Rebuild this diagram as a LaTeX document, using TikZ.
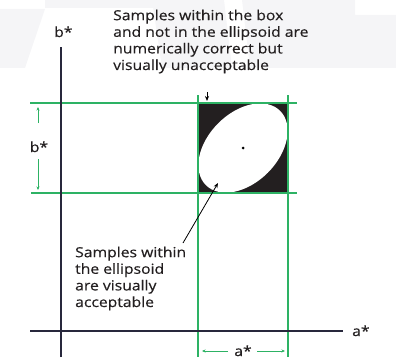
\documentclass[tikz,border=0pt]{standalone}
\usepackage{fontspec}
\setmainfont{Open Sans}[FakeStretch=1.13,FakeBold=0.4]
\usetikzlibrary{arrows.meta}
\definecolor{grn}{RGB}{45,178,100}
\definecolor{axc}{RGB}{40,40,60}
\definecolor{boxc}{RGB}{35,31,32}
\definecolor{wm}{RGB}{245,245,247}
\tikzset{
  axis/.style={draw=axc, line width=1.2pt},
  guide/.style={draw=grn, line width=1.2pt},
  dim/.style={draw=grn, line width=0.9pt, -{Stealth[length=3.5pt,width=3pt]}},
  lbl/.style={font=\fontsize{13.9}{16.6}\selectfont, inner sep=0pt, text=boxc},
  callout/.style={draw=black, line width=0.8pt, -{Stealth[length=5pt,width=4pt]}},
}
\begin{document}
\begin{tikzpicture}[x=1pt,y=-1pt]
\useasboundingbox (0,0) rectangle (396,361);
% faint background shapes
\fill[wm] (0,9) -- (45,9) -- (25,68) -- (0,68) -- cycle;
\fill[wm] (45,0) -- (158,0) -- (158,8) -- (45,8) -- cycle;
\fill[wm] (152,0) -- (224,0) -- (232,68) -- (162,68) -- cycle;
\fill[wm] (242,0) -- (355,0) -- (355,15) -- (396,15) -- (396,68) -- (250,68) -- cycle;
% box
\coordinate (ctr) at (243,148);
\fill[boxc] (198,103) rectangle (288,193);
\fill[white, rotate around={45:(ctr)}] (ctr) ellipse (52.5 and 35);
\fill[black] (ctr) circle (1.5);
% guides
\draw[guide] (30,103) -- (297,103);
\draw[guide] (31,193) -- (297,193);
\draw[guide] (198,95) -- (198,357);
\draw[guide] (288,95) -- (288,357);
% axes
\coordinate (yb) at (61,357);
\coordinate (yt) at (61,47);
\coordinate (xl) at (30,331);
\coordinate (xr) at (343,331);
\draw[axis] (yb) -- (yt);
\draw[axis] (xl) -- (xr);
% labels
\node[lbl, anchor=base west] (bstar) at (54,37) {b*};
\node[lbl, anchor=base west] (astar) at (352,336) {a*};
\node[lbl, anchor=base] (bdim) at (39,152) {b*};
\node[lbl, anchor=base] (adim) at (243,356) {a*};
% dimension lines
\coordinate (b1) at (38,123); \coordinate (b1t) at (38,107);
\coordinate (b2) at (38,159); \coordinate (b2t) at (38,190);
\draw[dim] (b1) -- (b1t);
\draw[dim] (b2) -- (b2t);
\coordinate (a1) at (228,351); \coordinate (a1t) at (202,351);
\coordinate (a2) at (257,351); \coordinate (a2t) at (285,351);
\draw[dim] (a1) -- (a1t);
\draw[dim] (a2) -- (a2t);
% texts
\node[lbl, anchor=base west, align=left] (top) at (113,70)
  {Samples within the box\\and not in the ellipsoid are\\numerically correct but\\visually unacceptable};
\node[lbl, anchor=base west, align=left] (bot) at (75,307)
  {Samples within\\the ellipsoid\\are visually\\acceptable};
% callouts
\coordinate (s1) at (207,92);
\coordinate (e1) at (207,101);
\draw[callout] (s1) -- (e1);
\coordinate (s2) at (183,243);
\coordinate (e2) at (218,183);
\draw[callout] (s2) -- (e2);
\end{tikzpicture}
\end{document}
